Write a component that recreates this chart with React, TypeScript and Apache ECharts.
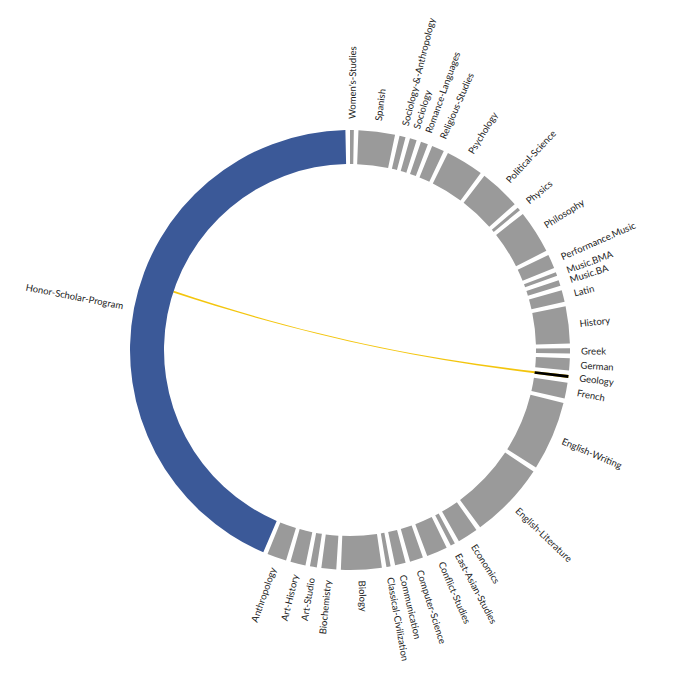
import React, { useEffect, useRef } from "react";
import * as echarts from "echarts";

// Nodes, clockwise from the top
const categories: string[] = [
  "Women's-Studies",
  "Spanish",
  "Sociology-&-Anthropology",
  "Sociology",
  "Romance-Languages",
  "Religious-Studies",
  "Psychology",
  "Political-Science",
  "Physics",
  "Philosophy",
  "Performance.Music",
  "Music.BMA",
  "Music.BA",
  "Latin",
  "History",
  "Greek",
  "German",
  "Geology",
  "French",
  "English-Writing",
  "English-Literature",
  "Economics",
  "East-Asian-Studies",
  "Conflict-Studies",
  "Computer-Science",
  "Communication",
  "Classical-Civilization",
  "Biology",
  "Biochemistry",
  "Art-Studio",
  "Art-History",
  "Anthropology",
  "Honor-Scholar-Program",
];

const values: number[] = [
  1.0, 9.6, 1.6, 1.8, 1.9, 3.3, 10.0, 10.8, 0.9, 11.4, 3.7, 1.0, 1.5, 3.1, 9.8,
  1.4, 3.2, 0.8, 4.2, 18.3, 20.2, 5.4, 1.2, 5.5, 3.5, 2.8, 1.1, 10.7, 3.9, 1.8,
  4.0, 5.1, 155.3,
];

// Links: Honor-Scholar-Program's non-highlighted chords (hidden),
// then the highlighted Geology chord.
const linkSources: string[] = [
  "Honor-Scholar-Program",
  "Honor-Scholar-Program",
  "Honor-Scholar-Program",
];
const linkTargets: string[] = [
  "Honor-Scholar-Program",
  "English-Literature",
  "Geology",
];
const linkValues: number[] = [70.0, 14.6, 0.6];
const linkShown: boolean[] = [false, false, true];

const PAD = 1.2;
const GREY = "#9a9a9a";
const BLUE = "#3b5998";
const RIBBON = "#f2c200";
const HIGHLIGHT = "#000000";

function colorFor(name: string): string {
  if (name === "Honor-Scholar-Program") return BLUE;
  if (name === "Geology") return RIBBON; // covered by the black highlight arc
  return GREY;
}

export default function App() {
  const ref = useRef<HTMLDivElement>(null);
  useEffect(() => {
    document.body.style.margin = "0";
    const chart = echarts.init(ref.current!, null, { renderer: "svg" });
    const total = values.reduce((a, b) => a + b, 0);
    const gap = (PAD * total) / (360 - categories.length * PAD);
    const pieData: any[] = [];
    categories.forEach((c, i) => {
      pieData.push({
        name: c,
        value: values[i],
        itemStyle:
          c === "Geology"
            ? { color: HIGHLIGHT, borderWidth: 0 }
            : { color: "rgba(0,0,0,0)", borderWidth: 0 },
      });
      pieData.push({ name: "gap" + i, value: gap, label: { show: false } });
    });
    chart.setOption({
      animation: false,
      series: [
        {
          type: "chord",
          center: [350, 350],
          radius: [186, 220],
          startAngle: 90,
          clockwise: true,
          padAngle: PAD,
          minAngle: 0,
          label: { show: false },
          itemStyle: { borderRadius: 0, borderWidth: 0 },
          lineStyle: { color: "target", opacity: 0.9, width: 0 },
          data: categories.map((c, i) => ({
            name: c,
            value: values[i],
            itemStyle: { color: colorFor(c) },
          })),
          links: linkSources.map((s, i) => ({
            source: s,
            target: linkTargets[i],
            value: linkValues[i],
            lineStyle: linkShown[i]
              ? { color: "target", opacity: 0.95, width: 0 }
              : { opacity: 0, width: 0 },
          })),
        },
        {
          type: "pie",
          center: [350, 350],
          radius: [186, 220],
          startAngle: 90,
          clockwise: true,
          avoidLabelOverlap: false,
          silent: true,
          z: 5,
          itemStyle: { color: "rgba(0,0,0,0)", borderWidth: 0 },
          labelLayout: { hideOverlap: false },
          label: {
            show: true,
            position: "outside",
            rotate: "radial",
            fontSize: 9.5,
            color: "#222",
            fontFamily: "Lato",
            distanceToLabelLine: 0,
          },
          labelLine: { show: false, length: 11, length2: 0 },
          data: pieData,
        },
      ],
    });
    return () => chart.dispose();
  }, []);
  return (
    <div
      ref={ref}
      style={{ position: "absolute", left: 0, top: 0, width: 700, height: 700 }}
    />
  );
}
